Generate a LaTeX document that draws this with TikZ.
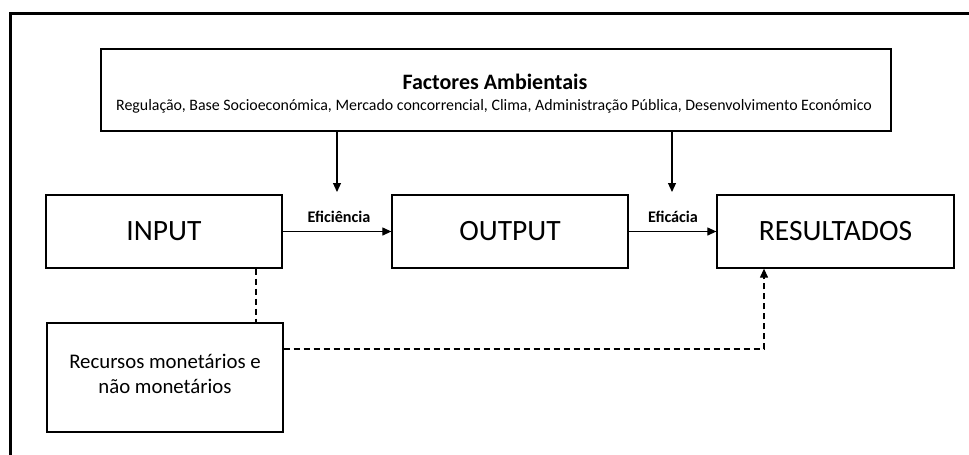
\documentclass[tikz,border=0pt]{standalone}
\usepackage{fontspec}
\setmainfont{Carlito}
\usetikzlibrary{arrows.meta}
\begin{document}
\begin{tikzpicture}[x=1pt,y=-1pt,
  box/.style={draw, line width=1.3pt, inner sep=0pt},
  big/.style={font=\fontsize{29.5}{34}\selectfont},
  lbl/.style={font=\fontsize{16.2}{18}\selectfont\bfseries, inner sep=0pt},
  arr/.style={line width=1.2pt, -{Triangle[length=9pt,width=8pt]}},
  dsh/.style={line width=1.2pt, dash pattern=on 6pt off 4pt}]
\useasboundingbox (0,0) rectangle (969,455);
\draw[line width=3pt] (10,470) -- (10,13) -- (985,13);
% environment box
\node[box, minimum width=790pt, minimum height=82pt] (fa) at (496,90) {};
\node[inner sep=0pt, font=\fontsize{22}{25}\selectfont\bfseries] (fat) at (495,82) {Factores Ambientais};
\node[inner sep=0pt, font=\fontsize{15.9}{18}\selectfont] (fas) at (494,106) {Regulação, Base Socioeconómica, Mercado concorrencial, Clima, Administração Pública, Desenvolvimento Económico};
% main row
\node[box, big, minimum width=236pt, minimum height=73pt] (in) at (164,231.5) {INPUT};
\node[box, big, minimum width=236pt, minimum height=73pt] (out) at (510,231.5) {OUTPUT};
\node[box, big, minimum width=237pt, minimum height=73pt] (res) at (835.5,231.5) {RESULTADOS};
\node[box, minimum width=236pt, minimum height=109pt] (rec) at (165,377.5) {};
\node[align=center, inner sep=0pt, font=\fontsize{20.8}{25}\selectfont] (rect) at (165,374) {Recursos monetários e\\não monetários};
% arrows
\draw[arr] (in.east) -- (out.west);
\draw[arr] (out.east) -- (res.west);
\node[lbl] (l1) at (339,217) {Eficiência};
\node[lbl] (l2) at (673,217) {Eficácia};
\coordinate (d1) at (337,192);
\coordinate (d2) at (672,192);
\draw[arr] (fa.south -| d1) -- (d1);
\draw[arr] (fa.south -| d2) -- (d2);
% dashed
\coordinate (c1) at (256,300);
\coordinate (c2) at (764,349);
\draw[dsh] (in.south -| c1) -- (rec.north -| c1);
\draw[dsh, -{Triangle[length=9pt,width=8pt]}] (rec.east |- c2) -- (c2) -- (res.south -| c2);
\end{tikzpicture}
\end{document}
